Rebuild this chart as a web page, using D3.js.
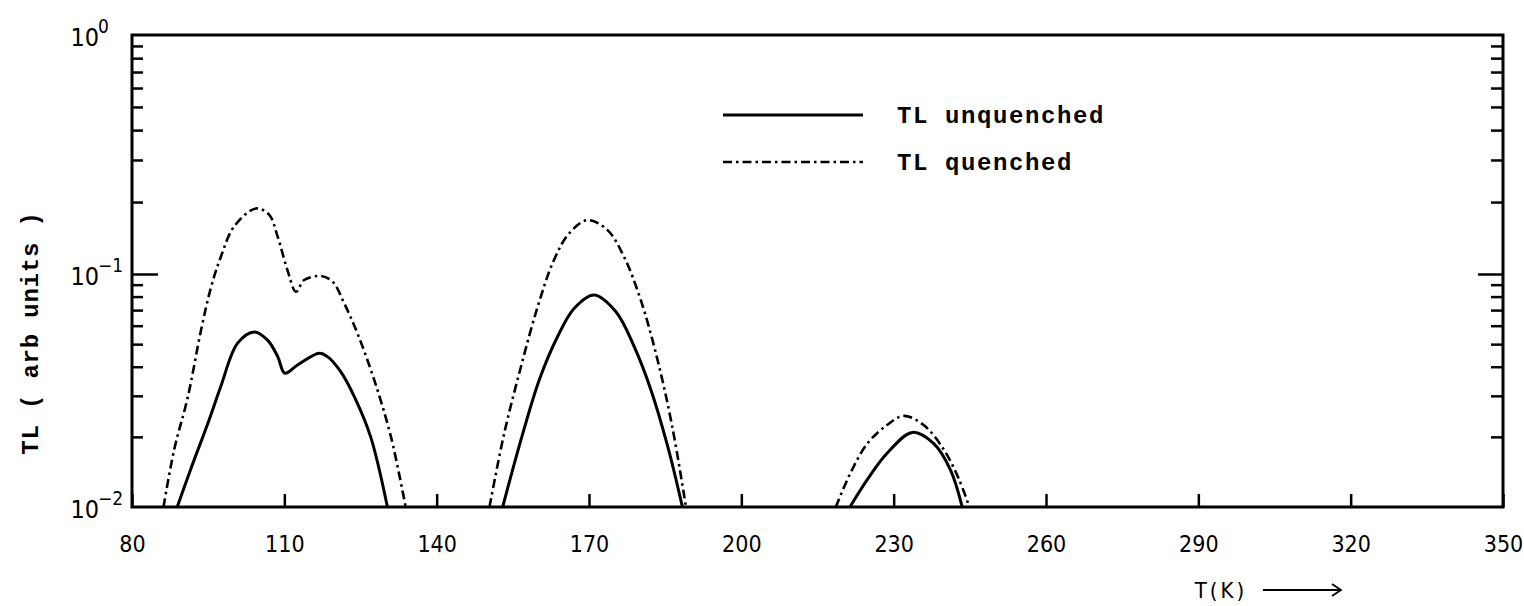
<!DOCTYPE html>
<html>
<head>
<meta charset="utf-8">
<script src="https://cdn.jsdelivr.net/npm/d3@7"></script>
<style>
  html, body { margin: 0; padding: 0; background: #fff; }
  svg { display: block; }
  .tick text { font-family: "Liberation Sans Narrow", "DejaVu Sans Condensed", "Liberation Sans", sans-serif; font-size: 23px; fill: #000; }
  .mono { font-family: "Liberation Mono", "DejaVu Sans Mono", monospace; font-weight: bold; fill: #000; }
  .sans { font-family: "Liberation Sans Narrow", "DejaVu Sans Condensed", "Liberation Sans", sans-serif; fill: #000; }
</style>
</head>
<body>
<svg id="chart" width="1524" height="606"></svg>
<script>
// ---- data ----
const xTicks = [80, 110, 140, 170, 200, 230, 260, 290, 320, 350];
const yMajor = [0.01, 0.1, 1];
const yMajorExp = ["-2", "-1", "0"];
const yMinor = [0.02,0.03,0.04,0.05,0.06,0.07,0.08,0.09,0.2,0.3,0.4,0.5,0.6,0.7,0.8,0.9];
const seriesNames = ["TL unquenched", "TL quenched"];

// unquenched (solid) peaks: [T(K), TL]
const unq1 = [[88.9,0.01],[91.6,0.0146],[95.2,0.0237],[97.5,0.033],[100.8,0.0505],[104.1,0.0564],[106.7,0.052],[108.7,0.0442],[110.1,0.0375],[112.6,0.0407],[116.9,0.0457],[118.5,0.0442],[121.1,0.0381],[123.8,0.0297],[127.0,0.020],[130.3,0.01]];
const unq2 = [[153.0,0.01],[156.6,0.0194],[160.2,0.0351],[163.8,0.0538],[167.1,0.0713],[171.0,0.0813],[175.3,0.0689],[178.9,0.0488],[182.2,0.0318],[185.5,0.0182],[188.4,0.01]];
const unq3 = [[221.4,0.01],[224.8,0.0131],[228.7,0.017],[233.7,0.0209],[237.9,0.0187],[241.2,0.0144],[243.5,0.01]];
// quenched (dash-dot) peaks
const qu1 = [[86.2,0.01],[88.3,0.0176],[91.0,0.0297],[93.6,0.0575],[95.6,0.0883],[97.5,0.118],[100.1,0.158],[104.4,0.188],[107.0,0.177],[108.7,0.143],[110.6,0.104],[112.3,0.0839],[113.9,0.0942],[117.2,0.098],[119.5,0.0927],[121.8,0.0748],[124.4,0.0556],[127.7,0.0351],[131.0,0.020],[133.9,0.01]];
const qu2 = [[150.4,0.01],[153.3,0.0207],[156.6,0.040],[159.9,0.0725],[163.1,0.1145],[166.1,0.148],[169.7,0.168],[173.6,0.153],[176.9,0.118],[180.2,0.0773],[183.5,0.0428],[186.4,0.0221],[189.1,0.01]];
const qu3 = [[218.6,0.01],[221.5,0.014],[224.8,0.0187],[228.7,0.0225],[232.0,0.0246],[235.9,0.0225],[239.9,0.0176],[242.9,0.0131],[244.9,0.01]];

// ---- layout ----
const L = 132, R = 1503, T = 35, B = 507;
const svg = d3.select("#chart");
const x = d3.scaleLinear().domain([80, 350]).range([L, R]);
const y = d3.scaleLog().domain([0.01, 0.1, 1]).range([B, 274, T]);

// curves
const line = d3.line().x(d => x(d[0])).y(d => y(d[1])).curve(d3.curveCatmullRom.alpha(0.5));
[unq1, unq2, unq3].forEach(s => {
  svg.append("path").attr("d", line(s)).attr("fill", "none").attr("stroke", "#000")
     .attr("stroke-width", 3).attr("stroke-linejoin", "round");
});
[qu1, qu2, qu3].forEach(s => {
  svg.append("path").attr("d", line(s)).attr("fill", "none").attr("stroke", "#000")
     .attr("stroke-width", 2.6).attr("stroke-dasharray", "9,4,2.5,4");
});

// bottom axis (ticks inward)
const xAxis = d3.axisBottom(x).tickValues(xTicks).tickSize(-13).tickPadding(29).tickFormat(d3.format("d"));
const gx = svg.append("g").attr("transform", `translate(0,${B})`).call(xAxis);
gx.select(".domain").remove();
gx.selectAll(".tick line").attr("stroke", "#000").attr("stroke-width", 2.5);

// left axis minor ticks
const gl = svg.append("g").attr("transform", `translate(${L},0)`)
  .call(d3.axisLeft(y).tickValues(yMinor).tickSize(-11).tickFormat(""));
gl.select(".domain").remove();
gl.selectAll(".tick line").attr("stroke", "#000").attr("stroke-width", 2.5);
const glM = svg.append("g").attr("transform", `translate(${L},0)`)
  .call(d3.axisLeft(y).tickValues([0.1]).tickSize(-26).tickFormat(""));
glM.select(".domain").remove();
glM.selectAll(".tick line").attr("stroke", "#000").attr("stroke-width", 2.5);

// right axis minor ticks
const gr = svg.append("g").attr("transform", `translate(${R},0)`)
  .call(d3.axisRight(y).tickValues(yMinor).tickSize(-12).tickFormat(""));
gr.select(".domain").remove();
gr.selectAll(".tick line").attr("stroke", "#000").attr("stroke-width", 2.5);
const grM = svg.append("g").attr("transform", `translate(${R},0)`)
  .call(d3.axisRight(y).tickValues([0.1]).tickSize(-25).tickFormat(""));
grM.select(".domain").remove();
grM.selectAll(".tick line").attr("stroke", "#000").attr("stroke-width", 2.5);

// frame
svg.append("rect").attr("x", L).attr("y", T).attr("width", R - L).attr("height", B - T)
   .attr("fill", "none").attr("stroke", "#000").attr("stroke-width", 3);

// y labels 10^n
yMajor.forEach((v, i) => {
  svg.append("text").attr("class", "sans").attr("x", 99).attr("y", y(v) + 11)
     .attr("text-anchor", "end").attr("font-size", 25).text("10");
  svg.append("text").attr("class", "sans").attr("x", 98).attr("y", y(v) - 2)
     .attr("font-size", 19).text(yMajorExp[i] === "0" ? "0" : "\u2212" + yMajorExp[i].slice(1));
});

// y axis title
svg.append("text").attr("class", "mono")
   .attr("transform", `translate(38,333) rotate(-90)`)
   .attr("text-anchor", "middle").attr("font-size", 24).attr("letter-spacing", 0.8)
   .text("TL ( arb units )");

// x axis title with arrow
svg.append("text").attr("class", "sans").attr("x", 1221).attr("y", 598)
   .attr("text-anchor", "middle").attr("font-size", 22).attr("letter-spacing", 3).text("T(K)");
svg.append("line").attr("x1", 1263).attr("x2", 1340).attr("y1", 590).attr("y2", 590)
   .attr("stroke", "#000").attr("stroke-width", 1.8);
svg.append("path").attr("d", "M1332,584 L1341,590 L1332,596").attr("fill", "none")
   .attr("stroke", "#000").attr("stroke-width", 1.8);

// legend
const leg = [{y: 115, dash: null, w: 3}, {y: 162, dash: "9,4,2.5,4", w: 2.6}];
leg.forEach((d, i) => {
  svg.append("line").attr("x1", 723).attr("x2", 863).attr("y1", d.y).attr("y2", d.y)
     .attr("stroke", "#000").attr("stroke-width", d.w).attr("stroke-dasharray", d.dash);
  svg.append("text").attr("class", "mono").attr("x", 897).attr("y", d.y + 8)
     .attr("font-size", 24).attr("letter-spacing", 1.6).text(seriesNames[i]);
});
</script>
</body>
</html>
